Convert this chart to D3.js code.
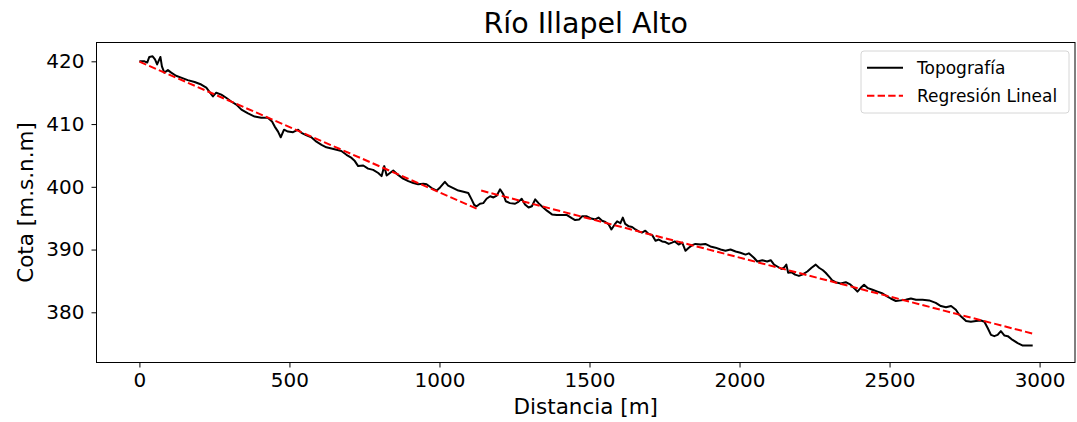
<!DOCTYPE html>
<meta charset="utf-8">
<style>
	body { margin: 0; background: #fff; }
	text { font-family: "DejaVu Sans", sans-serif; fill: #000; }
	.topo { fill: none; stroke: #000; stroke-width: 2px; stroke-linejoin: round; }
	.reg { fill: none; stroke: #ff0000; stroke-width: 2px; stroke-dasharray: 7.4, 3.2; }
	.axis path, .axis line { stroke: #000; stroke-width: 1px; }
	.axis text { font-size: 20px; }
</style>
<body>
<div id="chart"></div>
<script src="https://d3js.org/d3.v7.min.js"></script>
<script>
	// perfil longitudinal (distancia en m, cota en m.s.n.m)
	var distancia = [0, 17, 26, 33, 44, 52, 59, 70, 75, 83, 95, 106, 122, 139, 161, 184, 206, 223, 234, 245,
		256, 273, 289, 306, 323, 340, 362, 384, 406, 428, 442, 451, 462, 471, 482, 495,
		512, 529, 540, 557, 573, 590, 607, 623, 640, 657, 673, 690, 707, 718, 729, 746, 762, 779, 796, 807,
		816, 824, 835, 846, 862, 879, 896, 913, 929, 946, 957, 974, 991,
		1002, 1018, 1029, 1046, 1063, 1080, 1096, 1107, 1116, 1124, 1135, 1146, 1157, 1169, 1180, 1191, 1202,
		1213, 1221, 1235, 1252, 1263, 1274, 1285, 1297, 1308, 1319, 1330, 1341, 1358, 1375, 1391, 1408, 1425,
		1441, 1452, 1466, 1475, 1491,
		1503, 1519, 1530, 1542, 1553, 1564, 1573, 1584, 1592, 1603, 1611, 1619, 1631, 1642, 1653, 1664, 1675,
		1686, 1697, 1709, 1720, 1731, 1742, 1753, 1764, 1775, 1784, 1797, 1809, 1820, 1831, 1842, 1853, 1870,
		1886, 1903, 1920, 1937, 1953, 1970, 1987, 2003,
		2020, 2031, 2048, 2059, 2076, 2092, 2104, 2115, 2126, 2140, 2148, 2156, 2162, 2173, 2185, 2198, 2209,
		2226, 2240, 2254, 2265, 2278, 2287, 2300, 2309, 2320, 2337, 2354, 2370, 2385, 2393, 2404, 2415, 2426,
		2443, 2460, 2477, 2493,
		2504, 2521, 2538, 2554, 2571, 2588, 2610, 2632, 2654, 2671, 2688, 2705, 2721, 2732, 2744, 2755, 2771,
		2788, 2805, 2816, 2827, 2838, 2849, 2860, 2871, 2883, 2894, 2910, 2927, 2944, 2961, 2977];
	var cota = [420.0, 420.0, 419.8, 420.7, 420.8, 420.3, 419.5, 420.7, 419.2, 418.2, 418.6, 418.2, 417.7, 417.4, 417.0, 416.7, 416.3, 415.8, 415.1, 414.4,
		415.0, 414.7, 414.2, 413.6, 413.1, 412.3, 411.7, 411.2, 411.0, 411.0, 410.4, 409.6, 408.8, 407.9, 409.1, 408.8,
		408.7, 409.1, 408.6, 408.2, 407.9, 407.2, 406.7, 406.3, 406.1, 405.9, 405.7, 405.1, 404.6, 404.1, 403.3, 403.4, 402.9, 402.7, 402.2, 401.7,
		403.3, 401.8, 402.2, 402.6, 401.9, 401.3, 400.9, 400.6, 400.4, 400.5, 400.4, 399.8, 399.4,
		399.9, 400.8, 400.2, 399.8, 399.4, 399.2, 399.0, 398.0, 397.1, 396.9, 397.3, 397.4, 398.1, 398.5, 398.3, 398.6, 399.6,
		398.8, 397.7, 397.4, 397.3, 397.6, 398.1, 397.2, 396.7, 396.9, 398.0, 397.4, 396.9, 396.2, 395.6, 395.5, 395.5, 395.5,
		395.0, 394.7, 394.8, 395.3, 395.3,
		395.0, 394.8, 395.1, 394.6, 394.4, 394.0, 393.2, 394.0, 394.5, 394.2, 395.1, 394.1, 393.7, 393.6, 393.2, 392.9, 392.7,
		393.0, 392.5, 392.3, 391.4, 391.6, 391.3, 391.2, 390.9, 391.1, 391.3, 390.8, 391.1, 389.8, 390.3, 390.7, 390.9, 390.8,
		390.9, 390.5, 390.3, 390.0, 389.8, 390.0, 389.7, 389.5,
		389.2, 389.4, 388.7, 388.1, 388.3, 388.1, 388.3, 387.6, 387.3, 386.9, 387.1, 387.6, 386.3, 386.4, 386.0, 385.8, 386.0,
		386.5, 387.1, 387.6, 387.1, 386.7, 386.3, 385.6, 385.1, 384.8, 384.6, 384.8, 384.4, 383.7, 383.3, 383.9, 384.4, 383.9,
		383.6, 383.3, 383.0, 382.5,
		382.2, 381.8, 381.9, 382.0, 382.2, 382.0, 382.0, 381.9, 381.5, 381.0, 380.8, 381.0, 380.4, 379.6, 379.1, 378.6, 378.5,
		378.6, 378.7, 378.5, 377.5, 376.4, 376.2, 376.4, 377.0, 376.3, 376.2, 375.6, 375.1, 374.7, 374.7, 374.7];

	// regresion lineal por tramos (extremos de cada tramo)
	var reg1_x = [0, 1130];
	var reg1_y = [419.95, 396.4];
	var reg2_x = [1139, 2977];
	var reg2_y = [399.4, 376.6];

	var x_ticks = [0, 500, 1000, 1500, 2000, 2500, 3000];
	var y_ticks = [380, 390, 400, 410, 420];

	var titulo = "Río Illapel Alto";
	var x_label = "Distancia [m]";
	var y_label = "Cota [m.s.n.m]";
	var legend_labels = ["Topografía", "Regresión Lineal"];

	// set the dimensions and margins of the graph
	var W = 1077, H = 422;
	var margin = {top: 42.5, right: 2, bottom: 59.5, left: 96.5},
		width = W - margin.left - margin.right,
		height = H - margin.top - margin.bottom;

	var x = d3.scaleLinear().domain([-143, 3118]).range([0, width]);
	var y = d3.scaleLinear().domain([372.0, 423.0]).range([height, 0]);

	var svg = d3.select("#chart").append("svg")
		.attr("width", W)
		.attr("height", H);

	var g = svg.append("g")
		.attr("transform", "translate(" + margin.left + "," + margin.top + ")");

	var topo = distancia.map(function (d, i) { return {x: d, y: cota[i]}; });
	var seg1 = reg1_x.map(function (d, i) { return {x: d, y: reg1_y[i]}; });
	var seg2 = reg2_x.map(function (d, i) { return {x: d, y: reg2_y[i]}; });

	var line = d3.line()
		.x(function (d) { return x(d.x); })
		.y(function (d) { return y(d.y); });

	g.append("path").datum(topo).attr("class", "topo").attr("d", line);
	g.append("path").datum(seg1).attr("class", "reg").attr("d", line);
	g.append("path").datum(seg2).attr("class", "reg").attr("d", line);

	// axes
	g.append("g")
		.attr("class", "axis")
		.attr("transform", "translate(0," + height + ")")
		.call(d3.axisBottom(x).tickValues(x_ticks).tickSize(5).tickPadding(5).tickFormat(d3.format("d")))
		.select(".domain").remove();

	g.append("g")
		.attr("class", "axis")
		.call(d3.axisLeft(y).tickValues(y_ticks).tickSize(5).tickPadding(7).tickFormat(d3.format("d")))
		.select(".domain").remove();

	// frame
	g.append("rect")
		.attr("x", 0).attr("y", 0)
		.attr("width", width).attr("height", height)
		.attr("fill", "none").attr("stroke", "#000").attr("stroke-width", 1);

	// titles
	svg.append("text")
		.attr("x", margin.left + width / 2).attr("y", 33)
		.attr("text-anchor", "middle")
		.style("font-size", "28.5px")
		.text(titulo);

	svg.append("text")
		.attr("x", margin.left + width / 2).attr("y", 414)
		.attr("text-anchor", "middle")
		.style("font-size", "21.5px")
		.text(x_label);

	svg.append("text")
		.attr("transform", "translate(33," + (margin.top + height / 2) + ") rotate(-90)")
		.attr("text-anchor", "middle")
		.style("font-size", "21.5px")
		.text(y_label);

	// legend
	var legend = svg.append("g").attr("transform", "translate(861,51)");
	legend.append("rect")
		.attr("width", 208).attr("height", 62)
		.attr("rx", 3)
		.attr("fill", "#fff").attr("fill-opacity", 0.8)
		.attr("stroke", "#d6d6d6");
	var classes = ["topo", "reg"];
	legend_labels.forEach(function (lab, i) {
		var ly = 16.7 + i * 28;
		legend.append("line")
			.attr("class", classes[i])
			.attr("x1", 6).attr("x2", 42)
			.attr("y1", ly).attr("y2", ly);
		legend.append("text")
			.attr("x", 56).attr("y", ly)
			.attr("dy", "0.35em")
			.style("font-size", "17px")
			.text(lab);
	});
</script>
</body>
